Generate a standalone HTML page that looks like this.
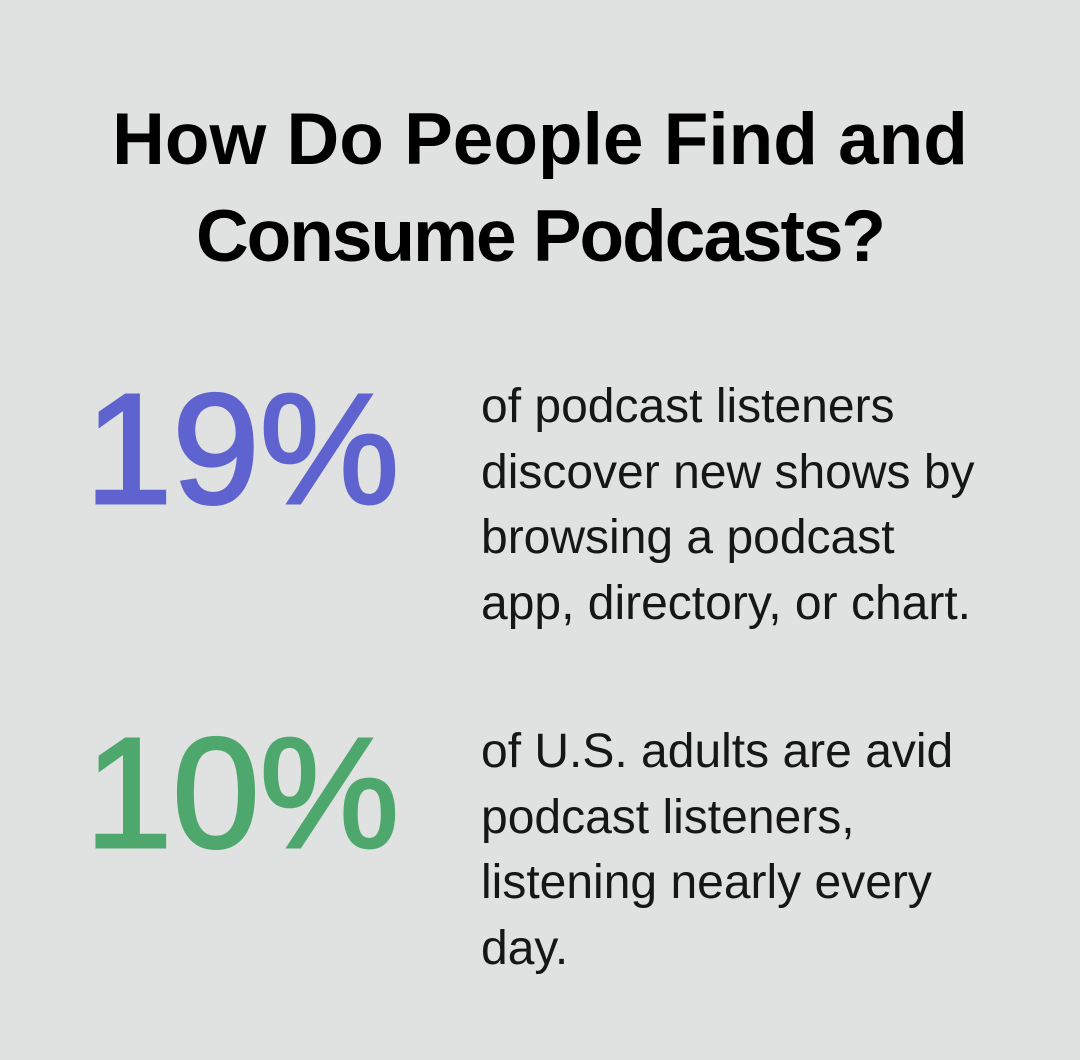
<!DOCTYPE html>
<html>
<head>
<meta charset="utf-8">
<style>
  html, body { margin:0; padding:0; }
  body { width:1080px; height:1060px; background:#e0e2e1; position:relative; overflow:hidden; font-family:"Liberation Sans", Arial, sans-serif; }
  .title { position:absolute; left:0; width:1080px; top:91px; text-align:center; font-weight:bold; font-size:73px; line-height:97px; color:#000; white-space:nowrap; }
  .title .l2 { letter-spacing:-2px; }
  .num { position:absolute; left:85px; font-size:157px; line-height:200px; white-space:nowrap; -webkit-text-stroke-width:3px; }
  .n1 { top:350px; color:#5f63cf; -webkit-text-stroke-color:#5f63cf; }
  .n2 { top:694px; color:#4ea86d; -webkit-text-stroke-color:#4ea86d; }
  .txt { position:absolute; left:481px; font-size:48px; line-height:65.5px; color:#161616; white-space:nowrap; }
  .t1 { top:374px; }
  .t2 { top:719px; }
</style>
</head>
<body>
  <div class="title">How Do People Find and<br><span class="l2">Consume Podcasts?</span></div>
  <div class="num n1">19%</div>
  <div class="txt t1">of podcast listeners<br>discover new shows by<br>browsing a podcast<br>app, directory, or chart.</div>
  <div class="num n2">10%</div>
  <div class="txt t2">of U.S. adults are avid<br>podcast listeners,<br>listening nearly every<br>day.</div>
</body>
</html>
